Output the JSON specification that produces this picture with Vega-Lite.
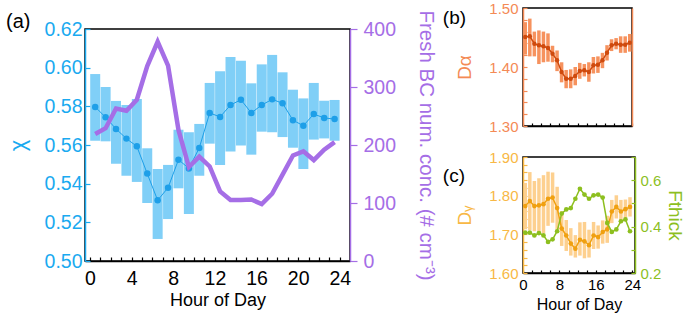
{
  "$schema": "https://vega.github.io/schema/vega-lite/v6.json",
  "background": "white",
  "padding": {"left": 5, "top": 0, "right": 0, "bottom": 0},
  "config": {
    "font": "Liberation Sans",
    "view": {"stroke": "black", "strokeWidth": 1.5},
    "axis": {"grid": false, "domainWidth": 1.5, "tickWidth": 1.2, "labelFlush": false, "labelOverlap": false, "titleFontWeight": "normal"},
    "title": {"fontWeight": "normal", "color": "black"}
  },
  "datasets": {
    "a": [
      {"h": 0.5, "chi": 0.5797, "lo": 0.5622, "hi": 0.5967, "bc": 219},
      {"h": 1.5, "chi": 0.5743, "lo": 0.5619, "hi": 0.590, "bc": 229},
      {"h": 2.5, "chi": 0.5683, "lo": 0.5503, "hi": 0.5828, "bc": 263},
      {"h": 3.5, "chi": 0.5633, "lo": 0.5441, "hi": 0.5807, "bc": 259},
      {"h": 4.5, "chi": 0.5593, "lo": 0.5409, "hi": 0.5838, "bc": 278},
      {"h": 5.5, "chi": 0.5452, "lo": 0.530, "hi": 0.5583, "bc": 336},
      {"h": 6.5, "chi": 0.5314, "lo": 0.5114, "hi": 0.5476, "bc": 378},
      {"h": 7.5, "chi": 0.5379, "lo": 0.5217, "hi": 0.5497, "bc": 337},
      {"h": 8.5, "chi": 0.5524, "lo": 0.5376, "hi": 0.5679, "bc": 226},
      {"h": 9.5, "chi": 0.5479, "lo": 0.5243, "hi": 0.5666, "bc": 162},
      {"h": 10.5, "chi": 0.5585, "lo": 0.5441, "hi": 0.5709, "bc": 180},
      {"h": 11.5, "chi": 0.5766, "lo": 0.5607, "hi": 0.5921, "bc": 163},
      {"h": 12.5, "chi": 0.5745, "lo": 0.5497, "hi": 0.5981, "bc": 120},
      {"h": 13.5, "chi": 0.5807, "lo": 0.5566, "hi": 0.6055, "bc": 105},
      {"h": 14.5, "chi": 0.5834, "lo": 0.5597, "hi": 0.6036, "bc": 105},
      {"h": 15.5, "chi": 0.5766, "lo": 0.555, "hi": 0.5919, "bc": 106},
      {"h": 16.5, "chi": 0.5807, "lo": 0.5669, "hi": 0.6017, "bc": 98},
      {"h": 17.5, "chi": 0.5836, "lo": 0.5666, "hi": 0.6066, "bc": 116},
      {"h": 18.5, "chi": 0.5816, "lo": 0.5641, "hi": 0.5976, "bc": 149},
      {"h": 19.5, "chi": 0.5728, "lo": 0.5586, "hi": 0.5886, "bc": 182},
      {"h": 20.5, "chi": 0.570, "lo": 0.5476, "hi": 0.5841, "bc": 189},
      {"h": 21.5, "chi": 0.576, "lo": 0.5628, "hi": 0.5921, "bc": 174},
      {"h": 22.5, "chi": 0.574, "lo": 0.5634, "hi": 0.5829, "bc": 192},
      {"h": 23.5, "chi": 0.5734, "lo": 0.5622, "hi": 0.5833, "bc": 205}
    ],
    "b": [
      {"h": 0.5, "d": 1.451, "lo": 1.421, "hi": 1.476},
      {"h": 1.5, "d": 1.452, "lo": 1.418, "hi": 1.482},
      {"h": 2.5, "d": 1.4395, "lo": 1.418, "hi": 1.460},
      {"h": 3.5, "d": 1.4367, "lo": 1.405, "hi": 1.462},
      {"h": 4.5, "d": 1.435, "lo": 1.408, "hi": 1.460},
      {"h": 5.5, "d": 1.4322, "lo": 1.409, "hi": 1.457},
      {"h": 6.5, "d": 1.4226, "lo": 1.408, "hi": 1.436},
      {"h": 7.5, "d": 1.4113, "lo": 1.393, "hi": 1.428},
      {"h": 8.5, "d": 1.3915, "lo": 1.374, "hi": 1.408},
      {"h": 9.5, "d": 1.3802, "lo": 1.364, "hi": 1.395},
      {"h": 10.5, "d": 1.3802, "lo": 1.364, "hi": 1.396},
      {"h": 11.5, "d": 1.3847, "lo": 1.369, "hi": 1.400},
      {"h": 12.5, "d": 1.3932, "lo": 1.380, "hi": 1.407},
      {"h": 13.5, "d": 1.3944, "lo": 1.384, "hi": 1.405},
      {"h": 14.5, "d": 1.3915, "lo": 1.375, "hi": 1.408},
      {"h": 15.5, "d": 1.4028, "lo": 1.389, "hi": 1.417},
      {"h": 16.5, "d": 1.404, "lo": 1.390, "hi": 1.418},
      {"h": 17.5, "d": 1.4113, "lo": 1.398, "hi": 1.424},
      {"h": 18.5, "d": 1.4243, "lo": 1.411, "hi": 1.437},
      {"h": 19.5, "d": 1.4367, "lo": 1.427, "hi": 1.447},
      {"h": 20.5, "d": 1.4395, "lo": 1.430, "hi": 1.449},
      {"h": 21.5, "d": 1.4379, "lo": 1.424, "hi": 1.452},
      {"h": 22.5, "d": 1.4379, "lo": 1.424, "hi": 1.452},
      {"h": 23.5, "d": 1.4412, "lo": 1.426, "hi": 1.456}
    ],
    "c": [
      {"h": 0.5, "dg": 1.773, "lo": 1.713, "hi": 1.833, "f": 0.374},
      {"h": 1.5, "dg": 1.786, "lo": 1.711, "hi": 1.861, "f": 0.374},
      {"h": 2.5, "dg": 1.773, "lo": 1.708, "hi": 1.838, "f": 0.362},
      {"h": 3.5, "dg": 1.775, "lo": 1.705, "hi": 1.845, "f": 0.372},
      {"h": 4.5, "dg": 1.778, "lo": 1.703, "hi": 1.853, "f": 0.362},
      {"h": 5.5, "dg": 1.792, "lo": 1.722, "hi": 1.862, "f": 0.334},
      {"h": 6.5, "dg": 1.795, "lo": 1.730, "hi": 1.860, "f": 0.345},
      {"h": 7.5, "dg": 1.768, "lo": 1.713, "hi": 1.823, "f": 0.380},
      {"h": 8.5, "dg": 1.715, "lo": 1.670, "hi": 1.760, "f": 0.456},
      {"h": 9.5, "dg": 1.697, "lo": 1.657, "hi": 1.737, "f": 0.474},
      {"h": 10.5, "dg": 1.676, "lo": 1.645, "hi": 1.716, "f": 0.480},
      {"h": 11.5, "dg": 1.663, "lo": 1.640, "hi": 1.698, "f": 0.520},
      {"h": 12.5, "dg": 1.686, "lo": 1.645, "hi": 1.731, "f": 0.563},
      {"h": 13.5, "dg": 1.682, "lo": 1.638, "hi": 1.732, "f": 0.538},
      {"h": 14.5, "dg": 1.672, "lo": 1.640, "hi": 1.712, "f": 0.520},
      {"h": 15.5, "dg": 1.697, "lo": 1.662, "hi": 1.732, "f": 0.535},
      {"h": 16.5, "dg": 1.693, "lo": 1.663, "hi": 1.723, "f": 0.538},
      {"h": 17.5, "dg": 1.706, "lo": 1.676, "hi": 1.736, "f": 0.525},
      {"h": 18.5, "dg": 1.713, "lo": 1.678, "hi": 1.748, "f": 0.416},
      {"h": 19.5, "dg": 1.759, "lo": 1.729, "hi": 1.789, "f": 0.377},
      {"h": 20.5, "dg": 1.771, "lo": 1.741, "hi": 1.801, "f": 0.388},
      {"h": 21.5, "dg": 1.759, "lo": 1.729, "hi": 1.789, "f": 0.423},
      {"h": 22.5, "dg": 1.765, "lo": 1.740, "hi": 1.790, "f": 0.431},
      {"h": 23.5, "dg": 1.771, "lo": 1.746, "hi": 1.796, "f": 0.380}
    ]
  },
  "spacing": 5,
  "hconcat": [
    {
      "spacing": 0,
      "vconcat": [
        {"width": 265, "height": 1, "view": {"stroke": null}, "data": {"values": []}, "mark": "rule", "encoding": {}},
        {
          "title": {"text": "(a)", "anchor": "start", "frame": "bounds", "fontSize": 20, "offset": -22},
          "width": 265,
          "height": 232,
          "data": {"name": "a"},
          "layer": [
            {
              "layer": [
                {
                  "mark": {"type": "bar", "size": 10, "color": "#80cff7"},
                  "encoding": {
                    "x": {"field": "h", "type": "quantitative", "scale": {"domain": [0, 24.5], "nice": false, "zero": false},
                      "axis": {"title": "Hour of Day", "values": [0,1,2,3,4,5,6,7,8,9,10,11,12,13,14,15,16,17,18,19,20,21,22,23,24], "tickCount": 100, "format": "d",
                        "labelExpr": "datum.value % 4 === 0 ? datum.label : ''", "labelOverlap": false, "tickSize": -4, "labelPadding": 12,
                        "labelFontSize": 19.5, "titleFontSize": 18, "titlePadding": 4,
                        "domainColor": "black", "tickColor": "black", "labelColor": "black", "titleColor": "black",
                        "encode": {"ticks": {"update": {"y2": {"signal": "datum.value % 4 === 0 ? -7 : -4"}}}}}},
                    "y": {"field": "lo", "type": "quantitative", "scale": {"domain": [0.5, 0.62], "nice": false, "zero": false},
                      "axis": {"title": "χ", "values": [0.5, 0.52, 0.54, 0.56, 0.58, 0.6, 0.62], "tickCount": 100, "format": ".2f", "labelOverlap": false,
                        "tickSize": -5, "labelPadding": 8, "titlePadding": 15, "labelFontSize": 19.5, "titleFontSize": 22,
                        "domainColor": "#1aaaf0", "tickColor": "#1aaaf0", "labelColor": "#1aaaf0", "titleColor": "#1aaaf0"}},
                    "y2": {"field": "hi"}
                  }
                },
                {
                  "mark": {"type": "line", "color": "#1e9fe8", "strokeWidth": 1},
                  "encoding": {"x": {"field": "h", "type": "quantitative"}, "y": {"field": "chi", "type": "quantitative"}}
                },
                {
                  "mark": {"type": "point", "filled": true, "size": 42, "color": "#1e9fe8", "opacity": 1},
                  "encoding": {"x": {"field": "h", "type": "quantitative"}, "y": {"field": "chi", "type": "quantitative"}}
                }
              ]
            },
            {
              "mark": {"type": "line", "color": "#a56ee6", "strokeWidth": 4.5},
              "encoding": {
                "x": {"field": "h", "type": "quantitative"},
                "y": {"field": "bc", "type": "quantitative", "scale": {"domain": [0, 400], "nice": false},
                  "axis": {"orient": "right", "title": "Fresh BC num. conc. (# cm⁻³)", "values": [0, 100, 200, 300, 400], "tickCount": 100, "labelOverlap": false,
                    "tickSize": 7, "labelPadding": 6, "titlePadding": 20, "labelFontSize": 19.5, "titleFontSize": 20.5,
                    "domainColor": "#a56ee6", "tickColor": "#a56ee6", "labelColor": "#a56ee6", "titleColor": "#a56ee6",
                    "encode": {"ticks": {"update": {"x": {"value": -5}}}}}}
              }
            }
          ],
          "resolve": {"scale": {"y": "independent"}}
        }
      ]
    },
    {
      "spacing": 14,
      "vconcat": [
        {
          "title": {"text": "(b)", "anchor": "start", "frame": "bounds", "fontSize": 19, "dy": 27, "dx": -13, "offset": 0},
          "width": 109,
          "height": 118,
          "data": {"name": "b"},
          "layer": [
            {
              "layer": [
                {
                  "mark": {"type": "rule", "strokeWidth": 3.5, "color": "#f6925e"},
                  "encoding": {
                    "x": {"field": "h", "type": "quantitative", "scale": {"domain": [0, 24], "nice": false, "zero": false},
                      "axis": {"title": null, "labels": false, "values": [0,2,4,6,8,10,12,14,16,18,20,22,24], "tickCount": 100, "tickSize": -3,
                        "domainColor": "black", "tickColor": "black",
                        "encode": {"ticks": {"update": {"y2": {"signal": "datum.value % 8 === 0 ? -5 : -3"}}}}}},
                    "y": {"field": "lo", "type": "quantitative", "scale": {"domain": [1.3, 1.5], "nice": false, "zero": false},
                      "axis": {"title": "Dα", "values": [1.3, 1.32, 1.34, 1.36, 1.38, 1.4, 1.42, 1.44, 1.46, 1.48, 1.5], "tickCount": 100,
                        "labelExpr": "abs(datum.value*10 - round(datum.value*10)) < 0.01 ? format(datum.value, '.2f') : ''", "labelOverlap": false,
                        "tickSize": -4, "labelPadding": 9, "titlePadding": 14, "labelFontSize": 15, "titleFontSize": 19,
                        "domainColor": "#f48a55", "tickColor": "#f48a55", "labelColor": "#f48a55", "titleColor": "#f48a55"}},
                    "y2": {"field": "hi"}
                  }
                },
                {
                  "mark": {"type": "point", "filled": true, "size": 20, "color": "#cf4a0d", "opacity": 1},
                  "encoding": {"x": {"field": "h", "type": "quantitative"}, "y": {"field": "d", "type": "quantitative"}}
                }
              ]
            },
            {
              "mark": {"type": "line", "color": "#cf4a0d", "strokeWidth": 1.5},
              "encoding": {
                "x": {"field": "h", "type": "quantitative"},
                "y": {"field": "d", "type": "quantitative", "axis": {"orient": "right", "labels": false, "ticks": false, "title": null, "domainColor": "#f48a55"}}
              }
            }
          ],
          "resolve": {"axis": {"y": "independent"}}
        },
        {
          "title": {"text": "(c)", "anchor": "start", "frame": "bounds", "fontSize": 19, "dy": 36, "dx": -13, "offset": 0},
          "width": 112,
          "height": 116,
          "data": {"name": "c"},
          "layer": [
            {
              "layer": [
                {
                  "mark": {"type": "rule", "strokeWidth": 3.5, "color": "#fdd08f"},
                  "encoding": {
                    "x": {"field": "h", "type": "quantitative", "scale": {"domain": [0, 24.6], "nice": false, "zero": false},
                      "axis": {"title": "Hour of Day", "values": [0,2,4,6,8,10,12,14,16,18,20,22,24], "tickCount": 100, "format": "d",
                        "labelExpr": "datum.value % 8 === 0 ? datum.label : ''", "labelOverlap": false, "tickSize": -3, "labelPadding": 7,
                        "labelFontSize": 15, "titleFontSize": 16, "titlePadding": 4,
                        "domainColor": "black", "tickColor": "black", "labelColor": "black", "titleColor": "black",
                        "encode": {"ticks": {"update": {"y2": {"signal": "datum.value % 8 === 0 ? -5 : -3"}}}}}},
                    "y": {"field": "lo", "type": "quantitative", "scale": {"domain": [1.6, 1.9], "nice": false, "zero": false},
                      "axis": {"title": "Dᵧ", "values": [1.6, 1.62, 1.64, 1.66, 1.68, 1.7, 1.72, 1.74, 1.76, 1.78, 1.8, 1.82, 1.84, 1.86, 1.88, 1.9], "tickCount": 100,
                        "labelExpr": "abs(datum.value*10 - round(datum.value*10)) < 0.01 ? format(datum.value, '.2f') : ''", "labelOverlap": false,
                        "tickSize": -4, "labelPadding": 9, "titlePadding": 14, "labelFontSize": 15, "titleFontSize": 19,
                        "domainColor": "#f8b845", "tickColor": "#f8b845", "labelColor": "#f8b845", "titleColor": "#f8b845"}},
                    "y2": {"field": "hi"}
                  }
                },
                {
                  "mark": {"type": "line", "color": "#f0a010", "strokeWidth": 1.5},
                  "encoding": {"x": {"field": "h", "type": "quantitative"}, "y": {"field": "dg", "type": "quantitative"}}
                },
                {
                  "mark": {"type": "point", "filled": true, "size": 22, "color": "#f0a010", "opacity": 1},
                  "encoding": {"x": {"field": "h", "type": "quantitative"}, "y": {"field": "dg", "type": "quantitative"}}
                }
              ]
            },
            {
              "layer": [
                {
                  "mark": {"type": "line", "color": "#8dbf1f", "strokeWidth": 1.5},
                  "encoding": {
                    "x": {"field": "h", "type": "quantitative"},
                    "y": {"field": "f", "type": "quantitative", "scale": {"domain": [0.2, 0.7], "nice": false, "zero": false},
                      "axis": {"orient": "right", "title": "Fthick", "values": [0.2, 0.3, 0.4, 0.5, 0.6, 0.7], "tickCount": 100,
                        "labelExpr": "round(datum.value*10) % 2 === 0 ? format(datum.value, '.1f') : ''", "labelOverlap": false,
                        "tickSize": -4, "labelPadding": 9, "titlePadding": 4, "labelFontSize": 15, "titleFontSize": 19,
                        "domainColor": "#8dbf1f", "tickColor": "#8dbf1f", "labelColor": "#8dbf1f", "titleColor": "#8dbf1f"}}
                  }
                },
                {
                  "mark": {"type": "point", "filled": true, "size": 22, "color": "#8dbf1f", "opacity": 1},
                  "encoding": {"x": {"field": "h", "type": "quantitative"}, "y": {"field": "f", "type": "quantitative"}}
                }
              ]
            }
          ],
          "resolve": {"scale": {"y": "independent"}}
        }
      ]
    }
  ]
}
